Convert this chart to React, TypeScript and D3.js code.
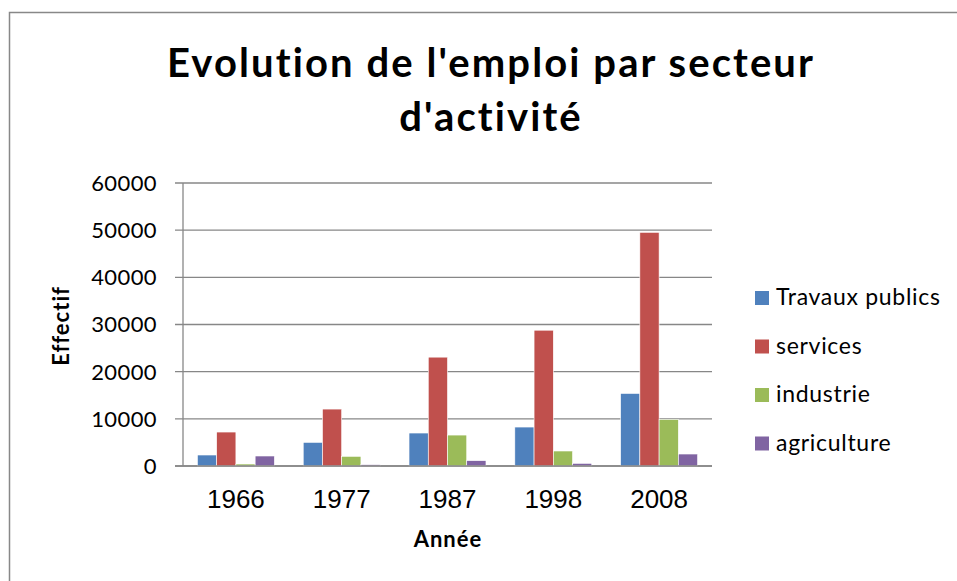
import React, { useEffect, useRef } from 'react';
import * as d3 from 'd3';

// data
const years = ['1966', '1977', '1987', '1998', '2008'];
const seriesNames = ['Travaux publics', 'services', 'industrie', 'agriculture'];
const travauxPublics = [2330, 5010, 6990, 8260, 15380];
const services = [7200, 12070, 23080, 28790, 49540];
const industrie = [420, 2050, 6560, 3180, 9880];
const agriculture = [2120, 280, 1130, 560, 2540];
const yTicks = [0, 10000, 20000, 30000, 40000, 50000, 60000];
const colors = ['#4F81BD', '#C0504D', '#9BBB59', '#8064A2'];

const W = 957;
const H = 581;

const App = () => {
  const svgRef = useRef<SVGSVGElement>(null);

  useEffect(() => {
    const svg = d3.select(svgRef.current);
    svg.selectAll('*').remove();

    const allSeries = [travauxPublics, services, industrie, agriculture];
    const left = 183;
    const right = 712;
    const top = 183;
    const bottom = 466;

    // chart border
    svg.append('rect')
      .attr('x', 9.5).attr('y', 12.5)
      .attr('width', 960).attr('height', 600)
      .attr('fill', '#fff')
      .attr('stroke', '#888').attr('stroke-width', 1.5);

    // title
    const title = svg.append('text')
      .attr('text-anchor', 'middle')
      .attr('font-family', 'Lato, sans-serif')
      .attr('font-weight', 'bold')
      .attr('font-size', 40)
      .attr('letter-spacing', 2.1)
      .attr('fill', '#000');
    title.append('tspan').attr('x', 491).attr('y', 77).text("Evolution de l'emploi par secteur");
    title.append('tspan').attr('x', 491).attr('y', 131).text("d'activité");

    const x0 = d3.scaleBand().domain(years).range([left, right]).padding(0);
    const bw = x0.bandwidth() / 5.5;
    const x1 = d3.scaleBand().domain(seriesNames)
      .range([bw * 0.75, x0.bandwidth() - bw * 0.75]).padding(0);
    const y = d3.scaleLinear().domain([0, 60000]).range([bottom, top]);

    // gridlines
    svg.append('g')
      .selectAll('line')
      .data(yTicks)
      .enter()
      .append('line')
      .attr('x1', left - 8).attr('x2', right)
      .attr('y1', d => y(d)).attr('y2', d => y(d))
      .attr('stroke', '#878787').attr('stroke-width', 1.3);

    // y axis line
    svg.append('line')
      .attr('x1', left).attr('x2', left)
      .attr('y1', top).attr('y2', bottom)
      .attr('stroke', '#878787').attr('stroke-width', 1.3);

    // y tick labels
    svg.append('g')
      .selectAll('text')
      .data(yTicks)
      .enter()
      .append('text')
      .attr('x', 157)
      .attr('y', d => y(d))
      .attr('dy', '0.36em')
      .attr('text-anchor', 'end')
      .attr('font-family', 'Lato, sans-serif')
      .attr('font-size', 22)
      .attr('letter-spacing', 0.4)
      .attr('fill', '#000')
      .text(d => d);

    // bars
    const groups = svg.append('g')
      .selectAll('g')
      .data(years)
      .enter()
      .append('g')
      .attr('transform', d => `translate(${x0(d)},0)`);

    groups.selectAll('rect')
      .data((d, i) => allSeries.map((s, j) => ({ name: seriesNames[j], value: s[i], color: colors[j] })))
      .enter()
      .append('rect')
      .attr('x', d => x1(d.name))
      .attr('y', d => y(d.value))
      .attr('width', x1.bandwidth())
      .attr('height', d => bottom - y(d.value))
      .attr('fill', d => d.color)
      .attr('stroke', '#fff').attr('stroke-width', 0.6);

    // bottom axis line redrawn on top
    svg.append('line')
      .attr('x1', left - 8).attr('x2', right)
      .attr('y1', bottom).attr('y2', bottom)
      .attr('stroke', '#878787').attr('stroke-width', 1.3);

    // category labels
    svg.append('g')
      .selectAll('text')
      .data(years)
      .enter()
      .append('text')
      .attr('x', d => x0(d) + x0.bandwidth() / 2)
      .attr('y', 508)
      .attr('text-anchor', 'middle')
      .attr('font-family', 'Liberation Sans, Arial, sans-serif')
      .attr('font-size', 26)
      .attr('fill', '#000')
      .text(d => d);

    // axis titles
    svg.append('text')
      .attr('x', 448).attr('y', 547)
      .attr('text-anchor', 'middle')
      .attr('font-family', 'Lato, sans-serif')
      .attr('font-weight', 'bold')
      .attr('font-size', 22)
      .attr('letter-spacing', 1)
      .text('Année');

    svg.append('text')
      .attr('transform', 'translate(69,326) rotate(-90)')
      .attr('text-anchor', 'middle')
      .attr('font-family', 'Lato, sans-serif')
      .attr('font-weight', 'bold')
      .attr('font-size', 22)
      .attr('letter-spacing', 1)
      .text('Effectif');

    // legend
    const legend = svg.append('g')
      .selectAll('g')
      .data(seriesNames)
      .enter()
      .append('g')
      .attr('transform', (d, i) => `translate(755,${291 + i * 48.5})`);
    legend.append('rect')
      .attr('width', 14).attr('height', 14)
      .attr('fill', (d, i) => colors[i]);
    legend.append('text')
      .attr('x', 21).attr('y', 14)
      .attr('font-family', 'Lato, sans-serif')
      .attr('font-size', 23)
      .attr('letter-spacing', 0.7)
      .attr('fill', '#000')
      .text(d => d);
  }, []);

  return (
    <svg ref={svgRef} width={W} height={H} style={{ position: 'absolute', left: 0, top: 0 }} />
  );
};

export default App;
